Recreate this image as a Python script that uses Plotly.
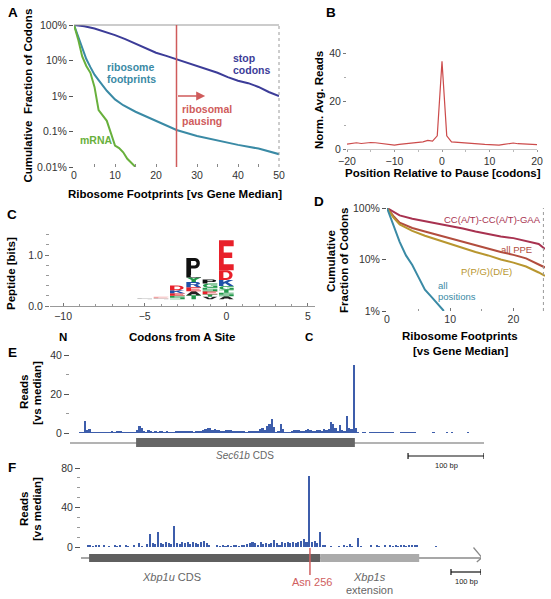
import plotly.graph_objects as go

W, H = 551, 599
def fx(px): return px / W
def fy(py): return 1 - py / H

FONT = "Liberation Sans, Arial, Helvetica, sans-serif"
TICKC = "#333333"

# ---------------- Panel A data ----------------
a_stop_x = [0, 2.5, 5, 7.5, 10, 12.5, 15, 17.5, 20, 22.5, 25, 27.5, 30, 32.5, 35, 37.5, 40, 42.5, 45, 47.5, 50]
a_stop_y = [100, 92, 80, 66, 52, 40, 30, 22, 16.5, 13.5, 10.8, 8.5, 6.8, 5.6, 4.5, 3.4, 2.7, 2.3, 1.8, 1.3, 1.0]
a_fp_x = [0, 1, 2, 3, 4, 5, 6, 8, 10, 12, 15, 20, 25, 30, 35, 40, 45, 50]
a_fp_y = [100, 50, 22, 11, 6.5, 4.0, 2.8, 1.4, 0.8, 0.55, 0.36, 0.2, 0.11, 0.075, 0.055, 0.042, 0.033, 0.023]
a_mrna_x = [0, 1, 2, 3, 4, 5, 6, 7, 8, 9, 10, 11, 12, 13, 14, 15]
a_mrna_y = [100, 40, 13, 7, 4.5, 1.8, 0.4, 0.28, 0.2, 0.09, 0.04, 0.034, 0.026, 0.017, 0.013, 0.01]
a_pause_threshold = 25
a_pause_arrow_end = 32
a_yticks = [0.01, 0.1, 1, 10, 100]
a_yticktext = ["0.01%", "0.1%", "1%", "10%", "100%"]

# ---------------- Panel B data ----------------
b_pos = list(range(-20, 21))
b_reads = [2.0, 2.2, 2.6, 2.3, 2.6, 2.7, 2.6, 2.3, 2.0, 1.7, 1.6, 1.9, 2.2, 2.5, 2.6, 2.8, 3.0, 3.6, 3.3, 5.5,
           36.5,
           5.5, 3.0, 2.8, 2.6, 2.4, 2.2, 2.0, 1.8, 1.9, 1.8, 1.7, 1.6, 1.9, 2.2, 2.5, 2.2, 2.0, 2.0, 1.9, 1.8]

# ---------------- Panel C data (sequence logo) ----------------
logo_positions = [-5, -4, -3, -2, -1, 0]
logo_letters = [["S"], ["S", "E"], ["S", "E", "K", "D"], ["T", "A", "E", "R", "Y", "L", "P"],
                ["V", "T", "E", "S", "G", "P"], ["A", "S", "T", "G", "K", "D", "E"]]
logo_heights = [[0.02], [0.02, 0.03], [0.07, 0.05, 0.06, 0.09], [0.08, 0.08, 0.08, 0.10, 0.09, 0.05, 0.33],
                [0.05, 0.05, 0.06, 0.07, 0.08, 0.08], [0.06, 0.07, 0.06, 0.07, 0.12, 0.19, 0.59]]
logo_base = 0.13

# ---------------- Panel D data ----------------
d_x = [0, 1, 2, 4, 6, 8, 10, 12, 14, 16, 18, 20, 22, 24, 25]
d_cc = [100, 85, 72, 62, 56, 50, 45, 40, 35, 31, 28, 26, 23, 20, 16]
d_ppe = [100, 70, 52, 41, 35, 30, 26, 22, 19, 16, 14, 12.3, 10.5, 8, 7]
d_ppg = [100, 66, 48, 36, 29, 24, 20, 17, 14, 12, 10, 8.7, 7.3, 5.6, 4.8]
d_all_x = [0, 1, 2, 3, 4, 5, 6, 7, 8, 9]
d_all_y = [100, 45, 22, 12, 7.8, 4.5, 2.6, 1.9, 1.4, 1.0]

# ---------------- Panel E data (Sec61b, 3-nt bins) ----------------
e_bin = 3
e_gene_len = 545
e_cds = [87, 375]
e_reads = [
    0, 0, 0, 0, 0.3, 0.3, 6.3, 1.5, 2.2, 0.5,
    0.3, 0.4, 0.3, 0.3, 0.4, 0.3, 0.5, 0.4, 0.6, 0.5,
    0.8, 1.2, 0.8, 0.3, 0.3, 0.2, 0.3, 0.3, 0.3, 1.5,
    3.8, 2.5, 1.2, 0.4, 1.6, 0.8, 0.5, 0.6, 0.5, 0.8,
    0.6, 0.5, 0.6, 0.5, 0.4, 0.5, 0.6, 1.0, 1.2, 1.0,
    1.0, 0.9, 1.1, 0.6, 0.5, 0.9, 1.0, 1.2, 1.4, 2.0,
    2.8, 2.5, 1.6, 1.8, 1.5, 1.3, 1.2, 1.0, 1.3, 1.5,
    1.4, 1.2, 0.9, 1.0, 0.8, 0.6, 0.6, 0.5, 0.6, 0.8,
    0.8, 0.7, 1.2, 2.0, 2.5, 1.5, 3.5, 4.5, 7.3, 3.0,
    0.5, 1.0, 4.8, 2.0, 0.3, 0.2, 0.3, 1.2, 1.3, 1.5,
    1.4, 1.2, 1.1, 1.6, 1.9, 1.5, 1.2, 1.0, 1.3, 1.6,
    1.0, 1.8, 1.4, 2.0, 5.8, 4.5, 2.5, 0.8, 4.3, 1.5,
    0.8, 8.5, 2.5, 2.0, 35, 2.5, 0.3, 0, 0.3, 0.3,
    0, 0.3, 0.3, 0.3, 0.3, 0.3, 0.3, 0.3, 0.3, 0.3,
    0.3, 0.3, 0, 0, 0, 0.3, 0.3, 0.3, 0.3, 0.3,
    0.3, 0.3, 0, 0, 0, 0, 0, 0, 0, 0.3,
    0, 0, 0, 0, 0, 0.3, 0, 0.3, 0, 0,
    0, 0, 0, 0, 0.3, 0, 0, 0, 0, 0,
    0, 0]
e_scalebar = [445, 545]

# ---------------- Panel F data (Xbp1, 9-nt bins) ----------------
f_bin = 9
f_gene_len = 1333
f_cds_u = [27, 797]
f_ext = [797, 1127]
f_asn256 = 763
f_reads = [
    0, 0, 1.5, 1.2, 1.0, 1.5, 1.2, 0, 1.3, 0,
    1.0, 0, 1.5, 0.8, 2.0, 0, 1.5, 1.0, 0, 1.2,
    0, 4.0, 1.0, 0, 3.0, 13, 4.0, 3.5, 15, 4.5,
    3.5, 5.0, 4.0, 3.0, 21, 4.5, 3.5, 5.5, 4.0, 5.0,
    3.5, 5.5, 4.5, 3.0, 5.0, 6.0, 4.0, 2.0, 0, 0,
    1.2, 1.0, 1.3, 0.8, 1.2, 1.0, 1.5, 1.2, 1.0, 1.5,
    1.8, 3.0, 4.5, 5.5, 4.0, 2.0, 5.0, 3.5, 4.5, 3.0,
    4.0, 7.0, 4.5, 2.5, 5.0, 4.0, 5.0, 4.5, 5.5, 4.0,
    5.0, 6.0, 8.0, 5.0, 72, 5.0, 6.0, 4.0, 15, 2.5,
    1.5, 0, 1.0, 0, 0, 0.8, 0, 2.5, 1.0, 3.5,
    1.0, 0, 9.0, 1.0, 0, 0, 0, 1.5, 0, 2.0,
    1.0, 0, 1.5, 0, 1.2, 1.0, 1.5, 1.0, 1.2, 1.5,
    1.0, 1.3, 1.5, 1.2, 2.0, 0, 0, 0, 0, 0,
    0, 0.8, 0, 0, 0, 0, 0, 0, 0, 0,
    0, 0, 0, 0, 0, 0, 0, 0]
f_scalebar = [1233, 1333]

# ---------------- colours ----------------
C_STOP = "#3c3c98"
C_TEAL = "#3a8aa5"
C_GREEN = "#68b03c"
C_RED = "#cf5b5b"
C_CC = "#a83250"
C_PPE = "#b24d3e"
C_PPG = "#b8962f"
C_BAR = "#3d5dab"

fig = go.Figure()

# Panel A traces
fig.add_trace(go.Scatter(x=a_stop_x, y=a_stop_y, mode="lines", line=dict(color=C_STOP, width=2), xaxis="x", yaxis="y"))
fig.add_trace(go.Scatter(x=a_fp_x, y=a_fp_y, mode="lines", line=dict(color=C_TEAL, width=2), xaxis="x", yaxis="y"))
fig.add_trace(go.Scatter(x=a_mrna_x, y=a_mrna_y, mode="lines", line=dict(color=C_GREEN, width=2), xaxis="x", yaxis="y"))

# Panel B
fig.add_trace(go.Scatter(x=b_pos, y=b_reads, mode="lines", line=dict(color="#cc4b4b", width=1.2), xaxis="x2", yaxis="y2"))

# Panel C: invisible anchor trace
fig.add_trace(go.Scatter(x=[logo_positions[0]], y=[0], mode="markers", marker=dict(opacity=0), xaxis="x3", yaxis="y3", hoverinfo="skip"))

# Panel D
fig.add_trace(go.Scatter(x=d_x, y=d_cc, mode="lines", line=dict(color=C_CC, width=2), xaxis="x4", yaxis="y4"))
fig.add_trace(go.Scatter(x=d_x, y=d_ppe, mode="lines", line=dict(color=C_PPE, width=2), xaxis="x4", yaxis="y4"))
fig.add_trace(go.Scatter(x=d_x, y=d_ppg, mode="lines", line=dict(color=C_PPG, width=2), xaxis="x4", yaxis="y4"))
fig.add_trace(go.Scatter(x=d_all_x, y=d_all_y, mode="lines", line=dict(color=C_TEAL, width=2), xaxis="x4", yaxis="y4"))

# Panel E
e_x = [e_bin * i + e_bin / 2 for i in range(len(e_reads))]
fig.add_trace(go.Bar(x=e_x, y=e_reads, width=e_bin, marker=dict(color=C_BAR, line=dict(width=0)), xaxis="x5", yaxis="y5"))
# Panel F
f_x = [f_bin * j + f_bin / 2 for j in range(len(f_reads))]
fig.add_trace(go.Bar(x=f_x, y=f_reads, width=f_bin * 0.75, marker=dict(color=C_BAR, line=dict(width=0)), xaxis="x6", yaxis="y6"))

shapes = []
annotations = []

def txt(x, y, s, size=11.5, color="#000000", bold=True, xanchor="center", angle=0):
    if bold:
        s = "<b>" + s + "</b>"
    annotations.append(dict(x=fx(x), y=fy(y), xref="paper", yref="paper", text=s, showarrow=False,
                            font=dict(size=size, color=color, family=FONT), xanchor=xanchor, yanchor="middle",
                            textangle=angle, borderpad=0))

# ---- Panel A decorations ----
shapes.append(dict(type="line", xref="x domain", yref="y domain", x0=0, x1=1.0, y0=1, y1=1, line=dict(color="#9a9a9a", width=1.2)))
shapes.append(dict(type="line", xref="x domain", yref="y domain", x0=1.0, x1=1.0, y0=0, y1=1, line=dict(color="#9a9a9a", width=1, dash="dot")))
shapes.append(dict(type="line", xref="x", yref="y domain", x0=a_pause_threshold, x1=a_pause_threshold, y0=0, y1=1, line=dict(color=C_RED, width=1.5)))
annotations.append(dict(x=a_pause_arrow_end, y=0, ax=a_pause_threshold, ay=0, xref="x", yref="y", axref="x", ayref="y",
                        text="", showarrow=True, arrowhead=2, arrowsize=1.2, arrowwidth=1.5, arrowcolor=C_RED))
txt(232, 58, "stop", 10.5, C_STOP, xanchor="left")
txt(232, 70, "codons", 10.5, C_STOP, xanchor="left")
txt(106, 67, "ribosome", 10.5, C_TEAL, xanchor="left")
txt(106, 79, "footprints", 10.5, C_TEAL, xanchor="left")
txt(96, 140, "mRNA", 10.5, C_GREEN)
txt(181, 109, "ribosomal", 10.5, C_RED, xanchor="left")
txt(181, 121, "pausing", 10.5, C_RED, xanchor="left")
txt(175, 194, "Ribosome Footprints [vs Gene Median]")
txt(27.5, 96, "Cumulative  Fraction of Codons", angle=-90)

# ---- Panel B ----
txt(443, 173, "Position Relative to Pause [codons]")
txt(319, 100, "Norm. Avg. Reads", angle=-90)

# ---- Panel C logo ----
LETTER_COLORS = {"D": "#e8202a", "E": "#e8202a", "K": "#2050a8", "R": "#2050a8",
                 "P": "#111111", "A": "#222222", "V": "#222222", "L": "#111111",
                 "S": "#22984a", "T": "#22984a", "G": "#22984a", "Y": "#22984a", "C": "#22984a"}
FADED = {"S": "#b8b8b8", "E": "#f2a4a4"}
GLYPHS = {
    "E": "M0 0 L1 0 L1 0.2 L0.32 0.2 L0.32 0.41 L0.9 0.41 L0.9 0.59 L0.32 0.59 L0.32 0.8 L1 0.8 L1 1 L0 1 Z",
    "D": "M0 0 L0.5 0 C1.07 0 1.07 1 0.5 1 L0 1 Z M0.3 0.2 L0.3 0.8 L0.48 0.8 C0.78 0.8 0.78 0.2 0.48 0.2 Z",
    "P": "M0 0 L0.32 0 L0.32 0.38 L0.6 0.38 C1.03 0.38 1.03 1 0.6 1 L0 1 Z M0.32 0.56 L0.32 0.82 L0.56 0.82 C0.74 0.82 0.74 0.56 0.56 0.56 Z",
    "R": "M0 0 L0.3 0 L0.3 0.4 L0.48 0.4 L0.72 0 L1 0 L0.74 0.45 C1.02 0.55 1.0 1 0.6 1 L0 1 Z M0.3 0.58 L0.3 0.82 L0.56 0.82 C0.74 0.82 0.74 0.58 0.56 0.58 Z",
    "K": "M0 0 L0.3 0 L0.3 0.33 L0.42 0.46 L0.7 0 L1 0 L0.6 0.64 L0.98 1 L0.62 1 L0.3 0.66 L0.3 1 L0 1 Z",
    "Y": "M0.35 0 L0.65 0 L0.65 0.45 L1 1 L0.68 1 L0.5 0.7 L0.32 1 L0 1 L0.35 0.45 Z",
    "S": "M0 0 L1 0 L1 0.58 L0.3 0.58 L0.3 0.8 L1 0.8 L1 1 L0 1 L0 0.42 L0.7 0.42 L0.7 0.2 L0 0.2 Z",
    "G": "M1 0 L0.45 0 C-0.12 0 -0.12 1 0.45 1 L1 1 L1 0.8 L0.48 0.8 C0.2 0.8 0.2 0.2 0.48 0.2 L0.72 0.2 L0.72 0.38 L0.55 0.38 L0.55 0.55 L1 0.55 Z",
    "C": "M1 0 L0.45 0 C-0.12 0 -0.12 1 0.45 1 L1 1 L1 0.8 L0.48 0.8 C0.2 0.8 0.2 0.2 0.48 0.2 L1 0.2 Z",
    "T": "M0.35 0 L0.65 0 L0.65 0.8 L1 0.8 L1 1 L0 1 L0 0.8 L0.35 0.8 Z",
    "A": "M0 0 L0.3 0 L0.38 0.25 L0.62 0.25 L0.7 0 L1 0 L0.65 1 L0.35 1 Z",
    "L": "M0 0 L1 0 L1 0.2 L0.3 0.2 L0.3 1 L0 1 Z",
    "V": "M0.35 0 L0.65 0 L1 1 L0.7 1 L0.5 0.35 L0.3 1 L0 1 Z",
}

def glyph_path(letter, xc, w, y0, y1):
    toks = GLYPHS[letter].split()
    out = []
    nums = []
    for t in toks:
        if t[0].isalpha():
            out.append(t[0])
            t = t[1:]
            if not t:
                continue
        nums.append(float(t))
        if len(nums) == 2:
            u, v = nums
            X = xc - w / 2 + u * w
            Y = y0 + v * (y1 - y0)
            out.append(f"{X:.4f},{Y:.4f}")
            nums = []
    s = ""
    for o in out:
        if o.isalpha():
            s += o
        else:
            if s and not s[-1].isalpha():
                s += " "
            s += o
    return s

for pos, letters, heights in zip(logo_positions, logo_letters, logo_heights):
    y = logo_base
    for L, h in zip(letters, heights):
        col = FADED.get(L, "#bbbbbb") if pos <= -4 else LETTER_COLORS[L]
        shapes.append(dict(type="path", xref="x3", yref="y3", path=glyph_path(L, pos, 0.9, y, y + h),
                           fillcolor=col, line=dict(width=0), layer="above"))
        y += h

txt(63, 337, "N")
txt(182, 337, "Codons from A Site")
txt(308.5, 337, "C")
txt(11, 274, "Peptide [bits]", angle=-90)

# ---- Panel D ----
shapes.append(dict(type="line", xref="x4 domain", yref="y4 domain", x0=0.99, x1=0.99, y0=0, y1=1, line=dict(color="#9a9a9a", width=1, dash="dot")))
txt(542, 220, "CC(A/T)-CC(A/T)-GAA", 9.5, C_CC, bold=False, xanchor="right")
txt(516, 249, "all PPE", 9.5, C_PPE, bold=False)
txt(486, 271, "P(P/G)(D/E)", 9.5, C_PPG, bold=False)
txt(437, 285, "all", 9.5, C_TEAL, bold=False, xanchor="left")
txt(437, 296, "positions", 9.5, C_TEAL, bold=False, xanchor="left")
txt(460, 336, "Ribosome Footprints")
txt(460, 351, "[vs Gene Median]")
txt(331, 261, "Cumulative", angle=-90)
txt(344, 261, "Fraction of Codons", angle=-90)

# ---- Panel E gene model ----
shapes.append(dict(type="line", xref="x5", yref="paper", x0=0, x1=e_gene_len, y0=fy(443), y1=fy(443), line=dict(color="#9a9a9a", width=1.5)))
shapes.append(dict(type="rect", xref="x5", yref="paper", x0=e_cds[0], x1=e_cds[1], y0=fy(447), y1=fy(438), fillcolor="#666666", line=dict(width=0)))
shapes.append(dict(type="line", xref="x5", yref="paper", x0=e_scalebar[0], x1=e_scalebar[1], y0=fy(456), y1=fy(456), line=dict(color="#111", width=1.2)))
for xb in e_scalebar:
    shapes.append(dict(type="line", xref="x5", yref="paper", x0=xb, x1=xb, y0=fy(453), y1=fy(459), line=dict(color="#111", width=1.2)))
annotations.append(dict(x=(e_cds[0] + e_cds[1]) / 2, y=fy(455), xref="x5", yref="paper", text="<i>Sec61b</i> CDS",
                        showarrow=False, font=dict(size=10, color="#666", family=FONT), yanchor="middle"))
annotations.append(dict(x=sum(e_scalebar) / 2, y=fy(465), xref="x5", yref="paper", text="100 bp",
                        showarrow=False, font=dict(size=7.5, color="#222", family=FONT), yanchor="middle"))
txt(24, 392, "Reads", angle=-90)
txt(37, 393, "[vs median]", angle=-90)

# ---- Panel F gene model ----
shapes.append(dict(type="line", xref="x6", yref="paper", x0=0, x1=1336, y0=fy(558), y1=fy(558), line=dict(color="#8a8a8a", width=1.5)))
shapes.append(dict(type="path", xref="x6", yref="paper",
                   path=f"M1308,{fy(547.5)} L1336,{fy(557.5)} L1319,{fy(562)}", line=dict(color="#8a8a8a", width=1.3)))
shapes.append(dict(type="rect", xref="x6", yref="paper", x0=f_cds_u[0], x1=f_cds_u[1], y0=fy(562), y1=fy(554), fillcolor="#5f5f5f", line=dict(width=0)))
shapes.append(dict(type="rect", xref="x6", yref="paper", x0=f_ext[0], x1=f_ext[1], y0=fy(562), y1=fy(554), fillcolor="#ababab", line=dict(width=0)))
shapes.append(dict(type="line", xref="x6", yref="paper", x0=f_asn256, x1=f_asn256, y0=fy(548), y1=fy(575), line=dict(color="#d06060", width=1.5)))
shapes.append(dict(type="line", xref="x6", yref="paper", x0=f_scalebar[0], x1=f_scalebar[1], y0=fy(572), y1=fy(572), line=dict(color="#111", width=1.2)))
for xb in f_scalebar:
    shapes.append(dict(type="line", xref="x6", yref="paper", x0=xb, x1=xb, y0=fy(569), y1=fy(575), line=dict(color="#111", width=1.2)))
annotations.append(dict(x=sum(f_scalebar) / 2, y=fy(581), xref="x6", yref="paper", text="100 bp",
                        showarrow=False, font=dict(size=7.5, color="#222", family=FONT), yanchor="middle"))
annotations.append(dict(x=300, y=fy(577), xref="x6", yref="paper", text="<i>Xbp1u</i> CDS",
                        showarrow=False, font=dict(size=11, color="#666", family=FONT), yanchor="middle"))
annotations.append(dict(x=f_asn256 + 6, y=fy(582), xref="x6", yref="paper", text="Asn 256",
                        showarrow=False, font=dict(size=11, color="#d06060", family=FONT), yanchor="middle"))
annotations.append(dict(x=962, y=fy(577), xref="x6", yref="paper", text="<i>Xbp1s</i>",
                        showarrow=False, font=dict(size=11, color="#666", family=FONT), yanchor="middle"))
annotations.append(dict(x=962, y=fy(590), xref="x6", yref="paper", text="extension",
                        showarrow=False, font=dict(size=11, color="#666", family=FONT), yanchor="middle"))
txt(24, 509, "Reads", angle=-90)
txt(37, 509, "[vs median]", angle=-90)

# ---- Panel letters ----
for (lx, ly, lab) in [(12.5, 12.5, "A"), (331, 12.5, "B"), (11.5, 214, "C"), (319, 201, "D"), (12, 352, "E"), (12, 467, "F")]:
    txt(lx, ly, lab, 13.5)

tickfont = dict(size=10.5, color=TICKC, family=FONT)
common = dict(showgrid=False, zeroline=False, tickfont=tickfont, automargin=False)

fig.update_layout(
    width=W, height=H, margin=dict(l=0, r=0, t=0, b=0, pad=0, autoexpand=False),
    paper_bgcolor="white", plot_bgcolor="white", showlegend=False,
    bargap=0, font=dict(family=FONT),
    shapes=shapes, annotations=annotations,
    xaxis=dict(domain=[fx(74), fx(279)], range=[0, 50], anchor="y", tickvals=[0, 10, 20, 30, 40, 50],
               ticks="inside", ticklen=3, tickcolor="#888", minor=dict(dtick=5, ticks="inside", ticklen=3, tickcolor="#888"),
               showline=False, **common),
    yaxis=dict(domain=[fy(167), fy(25)], type="log", range=[-2, 2], anchor="x", tickvals=a_yticks, ticktext=a_yticktext,
               ticks="outside", ticklen=4, tickcolor="#555", showline=False, **common),
    xaxis2=dict(domain=[fx(347), fx(537)], range=[-20, 20], anchor="y2", tickvals=[-20, -10, 0, 10, 20],
                ticks="outside", ticklen=2, tickcolor="#999", minor=dict(dtick=5, ticks="outside", ticklen=2, tickcolor="#bbb"),
                showline=True, linecolor="#c8c8c8", linewidth=1, **common),
    yaxis2=dict(domain=[fy(149), fy(41)], range=[0, 45], anchor="x2", tickvals=[0, 20, 40],
                ticks="outside", ticklen=3, tickcolor="#777", minor=dict(dtick=10, ticks="outside", ticklen=2, tickcolor="#aaa"),
                showline=False, **common),
    xaxis3=dict(domain=[fx(50), fx(315)], range=[-10.8, 5.43], anchor="y3", tickvals=[-10, -5, 0, 5],
                ticks="inside", ticklen=3, tickcolor="#777", minor=dict(dtick=1, ticks="inside", ticklen=2, tickcolor="#999"),
                showline=True, linecolor="#999", linewidth=1, **common),
    yaxis3=dict(domain=[fy(306), fy(234.6)], range=[0, 1.4], anchor="x3", tickvals=[0, 1.0], ticktext=["0.0", "1.0"],
                ticks="outside", ticklen=4, tickcolor="#777", minor=dict(dtick=0.2, ticks="outside", ticklen=3, tickcolor="#999"),
                showline=False, **common),
    xaxis4=dict(domain=[fx(387), fx(545)], range=[0, 25], anchor="y4", tickvals=[0, 10, 20],
                ticks="inside", ticklen=3, tickcolor="#777", minor=dict(dtick=5, ticks="inside", ticklen=2, tickcolor="#999"),
                showline=False, **common),
    yaxis4=dict(domain=[fy(311), fy(208)], type="log", range=[0, 2], anchor="x4", tickvals=[1, 10, 100],
                ticktext=["1%", "10%", "100%"], ticks="outside", ticklen=4, tickcolor="#555", showline=False, **common),
    xaxis5=dict(domain=[fx(70), fx(484)], range=[0, e_gene_len], anchor="y5", visible=False, automargin=False),
    yaxis5=dict(domain=[fy(433), fy(355)], range=[0, 40], anchor="x5", tickvals=[0, 20, 40],
                ticks="outside", ticklen=5, tickcolor="#555", minor=dict(dtick=10, ticks="outside", ticklen=3, tickcolor="#999"),
                showline=False, **common),
    xaxis6=dict(domain=[fx(81), fx(481)], range=[0, f_gene_len], anchor="y6", visible=False, automargin=False),
    yaxis6=dict(domain=[fy(547), fy(468)], range=[0, 80], anchor="x6", tickvals=[0, 40, 80],
                ticks="outside", ticklen=5, tickcolor="#555", minor=dict(dtick=10, ticks="outside", ticklen=3, tickcolor="#999"),
                showline=False, **common),
)

fig.write_html("out.html", config={"displayModeBar": False},
               post_script="document.body.style.margin='0';document.body.style.overflow='hidden';")
